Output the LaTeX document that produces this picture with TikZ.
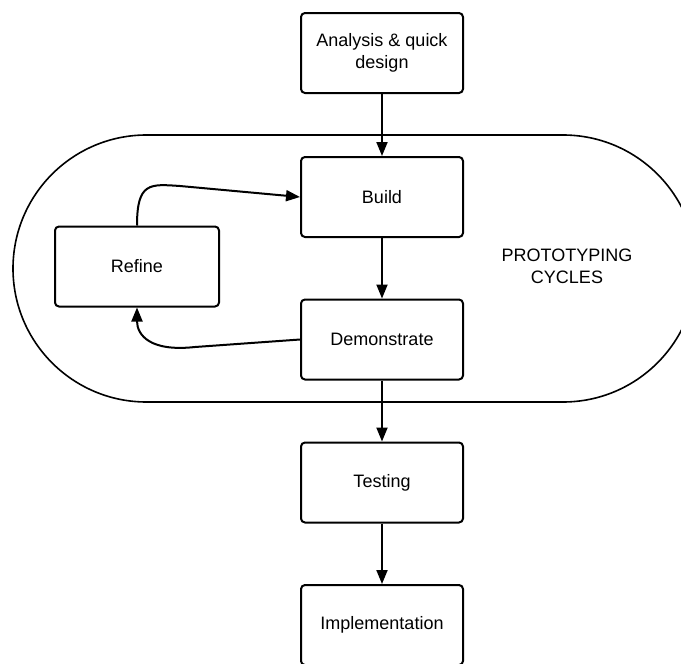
\documentclass[tikz,border=0pt]{standalone}
\usepackage{fontspec}
\setmainfont{Liberation Sans}
\usetikzlibrary{arrows.meta}
\begin{document}
\begin{tikzpicture}[x=1pt,y=-1pt,
  stepbox/.style={draw=black, line width=2pt, rounded corners=4pt, minimum width=162pt, minimum height=80pt, align=center, inner sep=2pt, font=\fontsize{18}{22}\selectfont},
  flow/.style={line width=2pt, -{Triangle[length=14pt,width=11pt]}},
  cyclebox/.style={draw=black, line width=1.6pt}
]
\useasboundingbox (0,0) rectangle (681,664);
\clip (0,0) rectangle (681,664);
% prototyping cycles region
\draw[cyclebox, rounded corners=133.5pt] (13,135) rectangle (696.5,402);
\node[font=\fontsize{18}{22}\selectfont, align=center] (cycles) at (567,266) {PROTOTYPING\\CYCLES};

\node[stepbox] (analysis) at (382,53) {Analysis \& quick\\design};
\node[stepbox] (build) at (382,197) {Build};
\node[stepbox] (demo) at (382,339.5) {Demonstrate};
\node[stepbox] (testing) at (382,482.5) {Testing};
\node[stepbox] (impl) at (382,625) {Implementation};
\node[stepbox, minimum width=164pt] (refine) at (137,266.5) {Refine};

\draw[flow] (analysis) -- (build);
\draw[flow] (build) -- (demo);
\draw[flow] (demo) -- (testing);
\draw[flow] (testing) -- (impl);
\draw[flow] (refine.north) .. controls (137,182) and (150,184) .. (180,186) -- (build.west);
\draw[flow] (demo.west) -- (195,347) .. controls (150,352) and (137,335) .. (refine.south);
\end{tikzpicture}
\end{document}
